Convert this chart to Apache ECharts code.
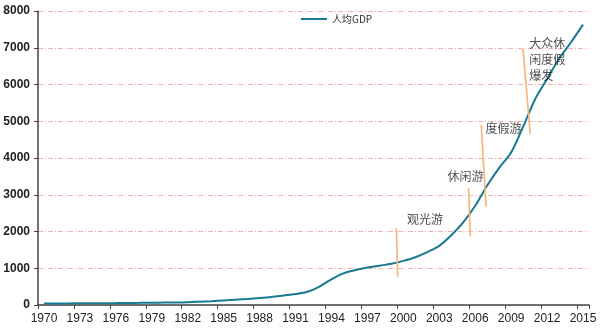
<!DOCTYPE html>
<html>
<head>
<meta charset="utf-8">
<script src="https://cdn.jsdelivr.net/npm/echarts@6/dist/echarts.min.js"></script>
<style>html,body{margin:0;padding:0;background:#fff;}#c{width:600px;height:330px;}</style>
</head>
<body>
<div id="c"></div>
<script>
var years = [];
for (var y = 1970; y <= 2015; y++) years.push(String(y));
var gdpPerCapita = [40, 42, 44, 46, 48, 50, 52, 55, 58, 62, 66, 70, 76, 90, 105, 125, 145, 165, 190, 220,
  260, 300, 360, 500, 700, 860, 950, 1020, 1070, 1120, 1200, 1300, 1440, 1610, 1900, 2250, 2700, 3250, 3730, 4150,
  4850, 5600, 6150, 6700, 7150, 7630];
var seriesName = '人均GDP';
var yTicks = [0, 1000, 2000, 3000, 4000, 5000, 6000, 7000, 8000];
// annotation segments: [yearTop, valueTop, yearBottom, valueBottom]
var stageLines = [
  [1999.42, 2090, 1999.53, 770],
  [2005.45, 3180, 2005.59, 1880],
  [2006.51, 4900, 2006.90, 2680],
  [2009.99, 6970, 2010.60, 4650]
];
var stageNames = ['观光游', '休闲游', '度假游', '大众休\n闲度假\n爆发'];
var stageLabelPos = [[2000.31, 2338], [2003.68, 3506], [2006.85, 4803], [2010.52, 6673]];

var chart = echarts.init(document.getElementById('c'));
var series = [{
  name: seriesName,
  type: 'line',
  data: gdpPerCapita,
  smooth: 0.3,
  symbol: 'none',
  lineStyle: { color: '#177a91', width: 2 },
  itemStyle: { color: '#177a91' },
  z: 3
}];
stageLines.forEach(function (s) {
  series.push({
    type: 'line', xAxisIndex: 1, yAxisIndex: 0, symbol: 'none', silent: true,
    data: [[s[0], s[1]], [s[2], s[3]]],
    lineStyle: { color: '#f8b27c', width: 1.6 }, z: 4
  });
});
series.push({
  type: 'scatter', xAxisIndex: 1, yAxisIndex: 0, symbolSize: 0, silent: true,
  data: stageLabelPos.map(function (p, i) { return { value: p, name: stageNames[i] }; }),
  label: {
    show: true, position: 'right', distance: 0, formatter: '{b}',
    fontFamily: 'Noto Sans CJK SC', fontSize: 12, color: '#222', lineHeight: 16, align: 'left'
  },
  z: 5
});

chart.setOption({
  animation: false,
  backgroundColor: '#fff',
  grid: { left: 38, right: 11, top: 11, bottom: 25, outerBoundsMode: 'none', containLabel: false },
  legend: {
    data: [{ name: seriesName, icon: 'rect' }], left: 296, top: 9, itemWidth: 26, itemHeight: 2, itemGap: 4,
    textStyle: { fontSize: 10, color: '#333', fontFamily: 'Noto Sans CJK SC' }
  },
  xAxis: [{
    type: 'category', data: years, boundaryGap: true,
    axisLine: { lineStyle: { color: '#444', width: 1.5 } },
    axisTick: { show: true, interval: 2, alignWithLabel: false, length: 4, lineStyle: { color: '#444' } },
    axisLabel: { interval: 2, margin: 8, fontSize: 12, color: '#222', fontFamily: 'Arial, Liberation Sans' },
    splitLine: { show: false }
  }, {
    type: 'value', min: 1969.5, max: 2015.5, show: false, splitLine: { show: false }
  }],
  yAxis: {
    type: 'value', min: yTicks[0], max: yTicks[yTicks.length - 1], interval: 1000,
    axisLine: { show: true, lineStyle: { color: '#444', width: 1.5 } },
    axisTick: { show: true, length: 4, lineStyle: { color: '#444' } },
    axisLabel: { margin: 8, fontSize: 12, color: '#222', fontWeight: 'bold', fontFamily: 'Arial, Liberation Sans',
      formatter: function (v) { return String(v); } },
    splitLine: { show: true, lineStyle: { color: '#f2b0b0', width: 1, type: [5, 2, 1, 2] } }
  },
  series: series
});
</script>
</body>
</html>
